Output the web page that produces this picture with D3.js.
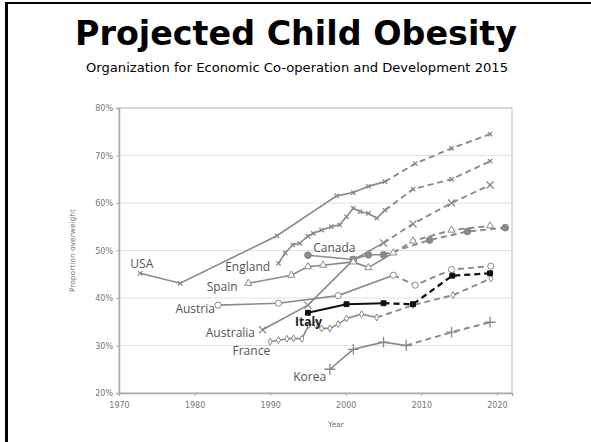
<!DOCTYPE html>
<html>
<head>
<meta charset="utf-8">
<script src="https://cdn.jsdelivr.net/npm/d3@7"></script>
<style>
  body { margin: 0; background: #fff; }
  svg { display: block; }
</style>
</head>
<body>
<div class="chart"></div>
<script>
// observed and projected values, [year, proportion]
var usaObs = [[1972.8,0.452],[1978.1,0.431],[1990.9,0.531],[1998.8,0.615],[2001,0.622],[2003,0.635],[2005.2,0.645]];
var usaProj = [[2009.2,0.683],[2014,0.715],[2019.1,0.745]];
var englandObs = [[1991.1,0.473],[1992,0.495],[1993,0.512],[1993.9,0.515],[1995,0.53],[1995.7,0.536],[1996.8,0.543],[1998.1,0.55],[1999.2,0.554],[2000.1,0.571],[2001,0.589],[2001.9,0.582],[2003,0.578],[2004.1,0.568],[2005.2,0.585]];
var englandProj = [[2008.9,0.629],[2014,0.65],[2019.1,0.688]];
var australiaObs = [[1989,0.333],[1995,0.385],[2001,0.48],[2005,0.516]];
var australiaProj = [[2008.9,0.556],[2014,0.60],[2019.1,0.638]];
var canadaObs = [[1995,0.49],[2001,0.481],[2003,0.491],[2005,0.491]];
var canadaProj = [[2011.1,0.522],[2016.1,0.54],[2021.1,0.548]];
var spainObs = [[1987.1,0.431],[1992.8,0.448],[1995,0.466],[1997,0.469],[2001,0.476],[2003,0.464],[2006.3,0.495]];
var spainProj = [[2008.9,0.52],[2014,0.543],[2019.1,0.552]];
var austriaObs = [[1983.1,0.385],[1991.1,0.389],[1999,0.405],[2006.3,0.448]];
var austriaProj = [[2009.2,0.427],[2014,0.46],[2019.2,0.467]];
var italyObs = [[1995,0.369],[2000.1,0.387],[2005,0.389]];
var italyProj = [[2008.9,0.387],[2014.1,0.447],[2019.1,0.452]];
var franceObs = [[1990,0.308],[1991.1,0.311],[1992.2,0.314],[1993.1,0.315],[1994.2,0.314],[1995.1,0.343],[1996,0.345],[1996.8,0.336],[1997.9,0.336],[1999,0.345],[2000.1,0.357],[2002.1,0.366],[2004.1,0.359]];
var franceProj = [[2008.9,0.385],[2014.2,0.406],[2019.2,0.441]];
var koreaObs = [[1997.9,0.25],[2001,0.292],[2005,0.307],[2008,0.30]];
var koreaProj = [[2014,0.328],[2019.1,0.349]];

var yTicks = [0.2,0.3,0.4,0.5,0.6,0.7,0.8];
var xTicks = [1970,1980,1990,2000,2010,2020];

var series = [
  {name:"USA", obs:usaObs, proj:usaProj, marker:"times"},
  {name:"England", obs:englandObs, proj:englandProj, marker:"times"},
  {name:"Australia", obs:australiaObs, proj:australiaProj, marker:"x"},
  {name:"Canada", obs:canadaObs, proj:canadaProj, marker:"dot"},
  {name:"Spain", obs:spainObs, proj:spainProj, marker:"triangle"},
  {name:"Austria", obs:austriaObs, proj:austriaProj, marker:"circle"},
  {name:"France", obs:franceObs, proj:franceProj, marker:"diamond"},
  {name:"Korea", obs:koreaObs, proj:koreaProj, marker:"plus"},
  {name:"Italy", obs:italyObs, proj:italyProj, marker:"square"}
];

// label anchors in data units
var labels = [
  {name:"USA", year:1971.5, value:0.463, anchor:"start"},
  {name:"Canada", year:1995.7, value:0.497, anchor:"start"},
  {name:"England", year:1990, value:0.457, anchor:"end"},
  {name:"Spain", year:1985.7, value:0.415, anchor:"end"},
  {name:"Austria", year:1982.7, value:0.368, anchor:"end"},
  {name:"Australia", year:1988, value:0.318, anchor:"end"},
  {name:"Italy", year:1993.3, value:0.341, anchor:"start"},
  {name:"France", year:1990, value:0.28, anchor:"end"},
  {name:"Korea", year:1997.4, value:0.225, anchor:"end"}
];

var w = 591, h = 442;
var svg = d3.select("div.chart").append("svg")
  .attr("width", w).attr("height", h)
  .attr("viewBox", `0 0 ${w} ${h}`);

// slide frame
svg.append("rect").attr("x",5).attr("y",2).attr("width",3).attr("height",h).attr("fill","#000");
svg.append("rect").attr("x",5).attr("y",2).attr("width",w).attr("height",2).attr("fill","#000");

svg.append("text")
  .attr("x", 296).attr("y", 45)
  .attr("text-anchor","middle")
  .style("font-family","'DejaVu Sans', sans-serif")
  .style("font-weight","bold")
  .style("font-size","34px")
  .attr("fill","#000")
  .attr("textLength", 442).attr("lengthAdjust","spacingAndGlyphs")
  .text("Projected Child Obesity");

svg.append("text")
  .attr("x", 297).attr("y", 72)
  .attr("text-anchor","middle")
  .style("font-family","'DejaVu Sans', sans-serif")
  .style("font-size","12px")
  .attr("fill","#000")
  .attr("textLength", 422).attr("lengthAdjust","spacingAndGlyphs")
  .text("Organization for Economic Co-operation and Development 2015");

var x = d3.scaleLinear().domain([1970, 2022]).range([119, 512]);
var y = d3.scaleLinear().domain([0.2, 0.8]).range([393, 108]);

// gridlines
svg.append("g").selectAll("line").data(yTicks.slice(1)).join("line")
  .attr("x1", x(1970)).attr("x2", x(2022))
  .attr("y1", d => y(d)).attr("y2", d => y(d))
  .attr("stroke","#e2e2e2").attr("stroke-width",1.2);

// frame
svg.append("rect")
  .attr("x", x(1970)).attr("y", y(0.8))
  .attr("width", x(2022)-x(1970)).attr("height", y(0.2)-y(0.8))
  .attr("fill","none").attr("stroke","#c8c8c8").attr("stroke-width",1.2);

var xAxis = svg.append("g")
  .attr("transform", `translate(0,${y(0.2)})`)
  .call(d3.axisBottom(x).tickValues(xTicks).tickFormat(d3.format("d")).tickSize(3).tickPadding(6));
var yAxis = svg.append("g")
  .attr("transform", `translate(${x(1970)},0)`)
  .call(d3.axisLeft(y).tickValues(yTicks).tickFormat(d3.format(".0%")).tickSize(3).tickPadding(3));
[xAxis, yAxis].forEach(function(a){
  a.select(".domain").attr("stroke","#aaa").attr("stroke-width",1.5);
  a.selectAll(".tick line").attr("stroke","#aaa");
  a.selectAll(".tick text").attr("fill","#777")
    .style("font-family","'DejaVu Sans', sans-serif").style("font-size","8px");
});

svg.append("text")
  .attr("x", 336).attr("y", 427)
  .attr("text-anchor","middle")
  .style("font-family","'DejaVu Sans', sans-serif").style("font-size","7.5px")
  .attr("fill","#777").text("Year");
svg.append("text")
  .attr("transform", `translate(75,${y(0.5)}) rotate(-90)`)
  .attr("text-anchor","middle")
  .style("font-family","'DejaVu Sans', sans-serif").style("font-size","7.5px")
  .attr("fill","#777").text("Proportion overweight");

var line = d3.line().x(d => x(d[0])).y(d => y(d[1]));

var symbolTypes = {
  times: d3.symbolTimes, x: d3.symbolTimes, plus: d3.symbolPlus,
  dot: d3.symbolCircle, circle: d3.symbolCircle, triangle: d3.symbolTriangle,
  diamond: d3.symbolDiamond, square: d3.symbolSquare
};
var symbolSizes = { times:14, x:34, plus:40, dot:36, circle:30, triangle:22, diamond:14, square:24 };

series.forEach(function(s){
  var col = s.name === "Italy" ? "#111" : "#8a8a8a";
  var sw = s.name === "Italy" ? 2 : 1.6;
  var g = svg.append("g");
  g.append("path").attr("d", line(s.obs))
    .attr("fill","none").attr("stroke",col).attr("stroke-width",sw);
  g.append("path").attr("d", line([s.obs[s.obs.length-1]].concat(s.proj)))
    .attr("fill","none").attr("stroke",col).attr("stroke-width",sw+0.3)
    .attr("stroke-dasharray","6,4");
  var sym = d3.symbol().type(symbolTypes[s.marker]).size(symbolSizes[s.marker]);
  var filled = s.marker === "dot" || s.marker === "square";
  var stroked = s.marker === "times" || s.marker === "x" || s.marker === "plus";
  g.selectAll("path.m").data(s.obs.concat(s.proj)).join("path")
    .attr("class","m")
    .attr("transform", d => `translate(${x(d[0])},${y(d[1])})`)
    .attr("d", sym)
    .attr("fill", filled ? col : (stroked ? "none" : "#fff"))
    .attr("stroke", col)
    .attr("stroke-width", stroked ? 1.3 : 1);
});

svg.append("g").selectAll("text").data(labels).join("text")
  .attr("x", d => x(d.year)).attr("y", d => y(d.value))
  .attr("text-anchor", d => d.anchor)
  .style("font-family","'Open Sans', 'DejaVu Sans', sans-serif")
  .style("font-size","12px")
  .style("font-weight", d => d.name === "Italy" ? "bold" : "normal")
  .attr("fill", d => d.name === "Italy" ? "#222" : "#555")
  .text(d => d.name);
</script>
</body>
</html>
